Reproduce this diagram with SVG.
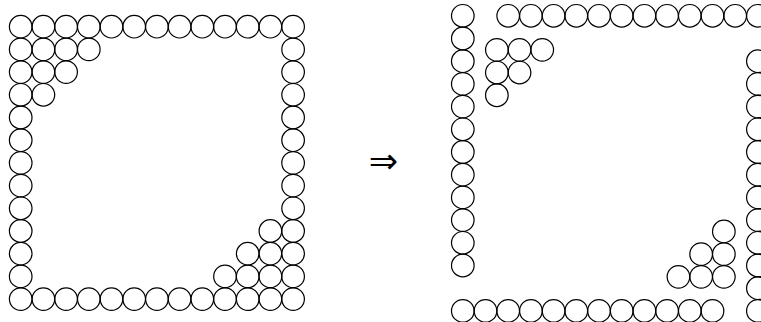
<svg xmlns="http://www.w3.org/2000/svg" width="761" height="322" viewBox="0 0 761 322">
<style>
circle{fill:none;stroke:#000;stroke-width:1.2}
.arrow{font-family:"DejaVu Sans",sans-serif;font-size:35px;fill:#000}
</style>
<rect width="761" height="322" fill="#fff"/>
<g id="before" transform="translate(20.7,26.7)">
<g id="before-top">
<circle cx="0" cy="0" r="11.3"/><circle cx="22.7" cy="0" r="11.3"/><circle cx="45.4" cy="0" r="11.3"/><circle cx="68.1" cy="0" r="11.3"/><circle cx="90.8" cy="0" r="11.3"/><circle cx="113.5" cy="0" r="11.3"/><circle cx="136.2" cy="0" r="11.3"/><circle cx="158.9" cy="0" r="11.3"/><circle cx="181.6" cy="0" r="11.3"/><circle cx="204.3" cy="0" r="11.3"/><circle cx="227" cy="0" r="11.3"/><circle cx="249.7" cy="0" r="11.3"/><circle cx="272.4" cy="0" r="11.3"/>
</g>
<g id="before-bottom">
<circle cx="0" cy="272.4" r="11.3"/><circle cx="22.7" cy="272.4" r="11.3"/><circle cx="45.4" cy="272.4" r="11.3"/><circle cx="68.1" cy="272.4" r="11.3"/><circle cx="90.8" cy="272.4" r="11.3"/><circle cx="113.5" cy="272.4" r="11.3"/><circle cx="136.2" cy="272.4" r="11.3"/><circle cx="158.9" cy="272.4" r="11.3"/><circle cx="181.6" cy="272.4" r="11.3"/><circle cx="204.3" cy="272.4" r="11.3"/><circle cx="227" cy="272.4" r="11.3"/><circle cx="249.7" cy="272.4" r="11.3"/><circle cx="272.4" cy="272.4" r="11.3"/>
</g>
<g id="before-left">
<circle cx="0" cy="22.7" r="11.3"/><circle cx="0" cy="45.4" r="11.3"/><circle cx="0" cy="68.1" r="11.3"/><circle cx="0" cy="90.8" r="11.3"/><circle cx="0" cy="113.5" r="11.3"/><circle cx="0" cy="136.2" r="11.3"/><circle cx="0" cy="158.9" r="11.3"/><circle cx="0" cy="181.6" r="11.3"/><circle cx="0" cy="204.3" r="11.3"/><circle cx="0" cy="227" r="11.3"/><circle cx="0" cy="249.7" r="11.3"/>
</g>
<g id="before-right">
<circle cx="272.4" cy="22.7" r="11.3"/><circle cx="272.4" cy="45.4" r="11.3"/><circle cx="272.4" cy="68.1" r="11.3"/><circle cx="272.4" cy="90.8" r="11.3"/><circle cx="272.4" cy="113.5" r="11.3"/><circle cx="272.4" cy="136.2" r="11.3"/><circle cx="272.4" cy="158.9" r="11.3"/><circle cx="272.4" cy="181.6" r="11.3"/><circle cx="272.4" cy="204.3" r="11.3"/><circle cx="272.4" cy="227" r="11.3"/><circle cx="272.4" cy="249.7" r="11.3"/>
</g>
<g id="before-corner-tl">
<circle cx="22.7" cy="22.7" r="11.3"/><circle cx="45.4" cy="22.7" r="11.3"/><circle cx="68.1" cy="22.7" r="11.3"/><circle cx="22.7" cy="45.4" r="11.3"/><circle cx="45.4" cy="45.4" r="11.3"/><circle cx="22.7" cy="68.1" r="11.3"/>
</g>
<g id="before-corner-br">
<circle cx="249.7" cy="204.3" r="11.3"/><circle cx="227" cy="227" r="11.3"/><circle cx="249.7" cy="227" r="11.3"/><circle cx="204.3" cy="249.7" r="11.3"/><circle cx="227" cy="249.7" r="11.3"/><circle cx="249.7" cy="249.7" r="11.3"/>
</g>
</g>
<g id="arrow"><text class="arrow" x="383.3" y="172.5" text-anchor="middle">⇒</text></g>
<g id="after" transform="translate(462.8,15.8)">
<g id="after-top">
<circle cx="45.4" cy="0" r="11.3"/><circle cx="68.1" cy="0" r="11.3"/><circle cx="90.8" cy="0" r="11.3"/><circle cx="113.5" cy="0" r="11.3"/><circle cx="136.2" cy="0" r="11.3"/><circle cx="158.9" cy="0" r="11.3"/><circle cx="181.6" cy="0" r="11.3"/><circle cx="204.3" cy="0" r="11.3"/><circle cx="227" cy="0" r="11.3"/><circle cx="249.7" cy="0" r="11.3"/><circle cx="272.4" cy="0" r="11.3"/><circle cx="295.1" cy="0" r="11.3"/>
</g>
<g id="after-left">
<circle cx="0" cy="0" r="11.3"/><circle cx="0" cy="22.7" r="11.3"/><circle cx="0" cy="45.4" r="11.3"/><circle cx="0" cy="68.1" r="11.3"/><circle cx="0" cy="90.8" r="11.3"/><circle cx="0" cy="113.5" r="11.3"/><circle cx="0" cy="136.2" r="11.3"/><circle cx="0" cy="158.9" r="11.3"/><circle cx="0" cy="181.6" r="11.3"/><circle cx="0" cy="204.3" r="11.3"/><circle cx="0" cy="227" r="11.3"/><circle cx="0" cy="249.7" r="11.3"/>
</g>
<g id="after-bottom">
<circle cx="0" cy="295.1" r="11.3"/><circle cx="22.7" cy="295.1" r="11.3"/><circle cx="45.4" cy="295.1" r="11.3"/><circle cx="68.1" cy="295.1" r="11.3"/><circle cx="90.8" cy="295.1" r="11.3"/><circle cx="113.5" cy="295.1" r="11.3"/><circle cx="136.2" cy="295.1" r="11.3"/><circle cx="158.9" cy="295.1" r="11.3"/><circle cx="181.6" cy="295.1" r="11.3"/><circle cx="204.3" cy="295.1" r="11.3"/><circle cx="227" cy="295.1" r="11.3"/><circle cx="249.7" cy="295.1" r="11.3"/>
</g>
<g id="after-right">
<circle cx="295.1" cy="45.4" r="11.3"/><circle cx="295.1" cy="68.1" r="11.3"/><circle cx="295.1" cy="90.8" r="11.3"/><circle cx="295.1" cy="113.5" r="11.3"/><circle cx="295.1" cy="136.2" r="11.3"/><circle cx="295.1" cy="158.9" r="11.3"/><circle cx="295.1" cy="181.6" r="11.3"/><circle cx="295.1" cy="204.3" r="11.3"/><circle cx="295.1" cy="227" r="11.3"/><circle cx="295.1" cy="249.7" r="11.3"/><circle cx="295.1" cy="272.4" r="11.3"/><circle cx="295.1" cy="295.1" r="11.3"/>
</g>
<g id="after-corner-tl">
<circle cx="34.05" cy="34.05" r="11.3"/><circle cx="56.75" cy="34.05" r="11.3"/><circle cx="79.45" cy="34.05" r="11.3"/><circle cx="34.05" cy="56.75" r="11.3"/><circle cx="56.75" cy="56.75" r="11.3"/><circle cx="34.05" cy="79.45" r="11.3"/>
</g>
<g id="after-corner-br">
<circle cx="261.05" cy="215.65" r="11.3"/><circle cx="238.35" cy="238.35" r="11.3"/><circle cx="261.05" cy="238.35" r="11.3"/><circle cx="215.65" cy="261.05" r="11.3"/><circle cx="238.35" cy="261.05" r="11.3"/><circle cx="261.05" cy="261.05" r="11.3"/>
</g>
</g>
</svg>
